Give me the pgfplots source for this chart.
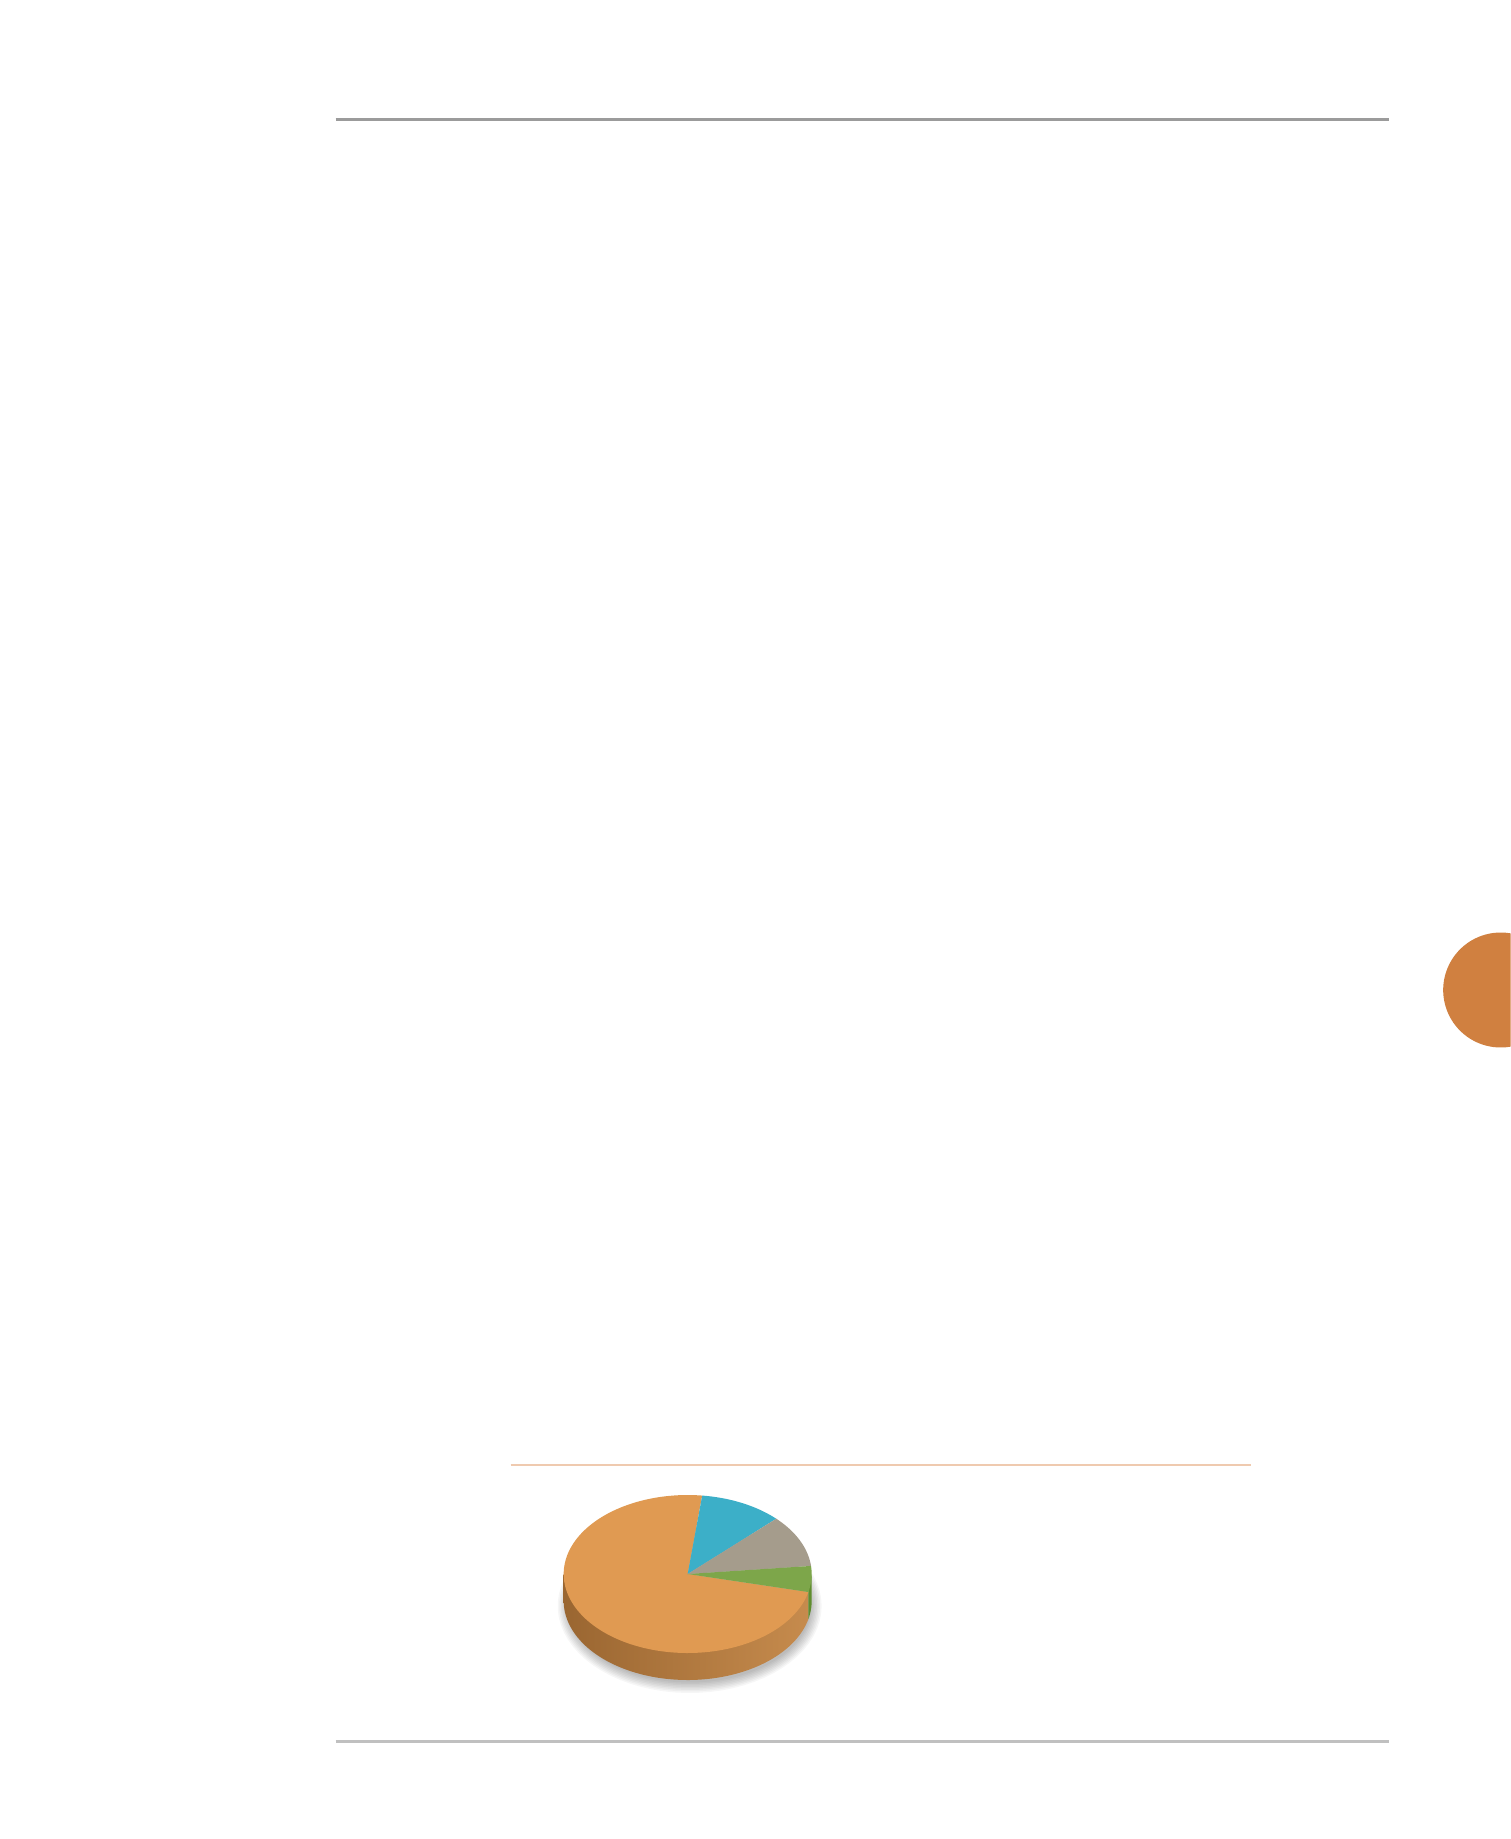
\documentclass[border=0pt]{standalone}
\usepackage{pgfplots}
\pgfplotsset{compat=1.18}

\definecolor{lineTop}{HTML}{9B9B9B}
\definecolor{lineBot}{HTML}{C0C0C0}
\definecolor{peach}{HTML}{EFCAAF}
\definecolor{circ}{HTML}{D08040}
\definecolor{pOrange}{HTML}{E09A52}
\definecolor{pBlue}{HTML}{3CAFC8}
\definecolor{pGray}{HTML}{A59C8C}
\definecolor{pGreen}{HTML}{7DA64A}
\definecolor{sideL}{HTML}{9A6631}
\definecolor{sideR}{HTML}{C68B4D}
\definecolor{sideG}{HTML}{5F8D2E}

\begin{document}
% slice shares in percent
\def\vOrange{73.2}
\def\vBlue{10.8}
\def\vGray{10.7}
\def\vGreen{5.3}
% pie geometry in page pixels
\def\cx{477}
\def\cy{1574}
\def\rx{124}
\def\ry{79}
\def\dep{27}
\pgfmathsetmacro\aStart{-13.2}
\pgfmathsetmacro\aGreen{\aStart+3.6*\vGreen}
\pgfmathsetmacro\aGray{\aGreen+3.6*\vGray}
\pgfmathsetmacro\aBlue{\aGray+3.6*\vBlue}
\pgfmathsetmacro\aOrange{\aBlue+3.6*\vOrange}
\pgfmathsetmacro\xL{\cx-\rx}
\pgfmathsetmacro\xR{\cx+\rx}
\pgfmathsetmacro\xE{\cx+\rx*cos(\aOrange)}
\pgfmathsetmacro\yE{\cy-\ry*sin(\aOrange)}

\begin{tikzpicture}
\path[use as bounding box] (0,0) rectangle (130mm,183.9mm);
\fill[white] (0,0) rectangle (130mm,183.9mm);
\begin{axis}[
    at={(0,0)}, anchor=south west,
    scale only axis,
    width=130mm, height=183.9mm,
    xmin=0, xmax=1300, ymin=0, ymax=1839,
    y dir=reverse,
    hide axis,
    clip=true,
]
% page rules
\addplot[draw=lineTop, line width=0.3mm] coordinates {(125,120) (1178,120)};
\addplot[draw=lineBot, line width=0.3mm] coordinates {(125,1741) (1178,1741)};
\addplot[draw=peach, line width=0.15mm] coordinates {(300,1465) (1040,1465)};
% page tab
\addplot[fill=circ, draw=none, domain=0:360, samples=90, variable=\t]
    ({1290+57.5*cos(\t)},{990+57.5*sin(\t)}) -- cycle;

% soft shadow
\pgfplotsinvokeforeach{0,...,7}{
\addplot[fill=black, fill opacity=0.035, draw=none, domain=0:360, samples=72, variable=\t]
    ({\cx+2+(\rx+8-#1*1.5)*cos(\t)},{\cy+\dep+5+(\ry+8-#1*1.5)*sin(\t)}) -- cycle;
}

% side of the pie
\addplot[draw=none, left color=sideL, right color=sideR, domain=180:\aOrange, samples=80, variable=\t]
    ({\cx+\rx*cos(\t)},{\cy+\dep-\ry*sin(\t)}) -- (\xE,\yE) -- (\xL,\cy) -- cycle;
\addplot[draw=none, fill=sideG, domain=\aOrange:360, samples=20, variable=\t]
    ({\cx+\rx*cos(\t)},{\cy+\dep-\ry*sin(\t)}) -- (\xR,\cy) -- (\xE,\yE) -- cycle;

% top face
\addplot[draw=none, fill=pOrange, domain=\aBlue:\aOrange, samples=120, variable=\t]
    ({\cx+\rx*cos(\t)},{\cy-\ry*sin(\t)}) -- (\cx,\cy) -- cycle;
\addplot[draw=none, fill=pBlue, domain=\aGray:\aBlue, samples=30, variable=\t]
    ({\cx+\rx*cos(\t)},{\cy-\ry*sin(\t)}) -- (\cx,\cy) -- cycle;
\addplot[draw=none, fill=pGray, domain=\aGreen:\aGray, samples=30, variable=\t]
    ({\cx+\rx*cos(\t)},{\cy-\ry*sin(\t)}) -- (\cx,\cy) -- cycle;
\addplot[draw=none, fill=pGreen, domain=\aStart:\aGreen, samples=20, variable=\t]
    ({\cx+\rx*cos(\t)},{\cy-\ry*sin(\t)}) -- (\cx,\cy) -- cycle;
\end{axis}
\end{tikzpicture}
\end{document}
